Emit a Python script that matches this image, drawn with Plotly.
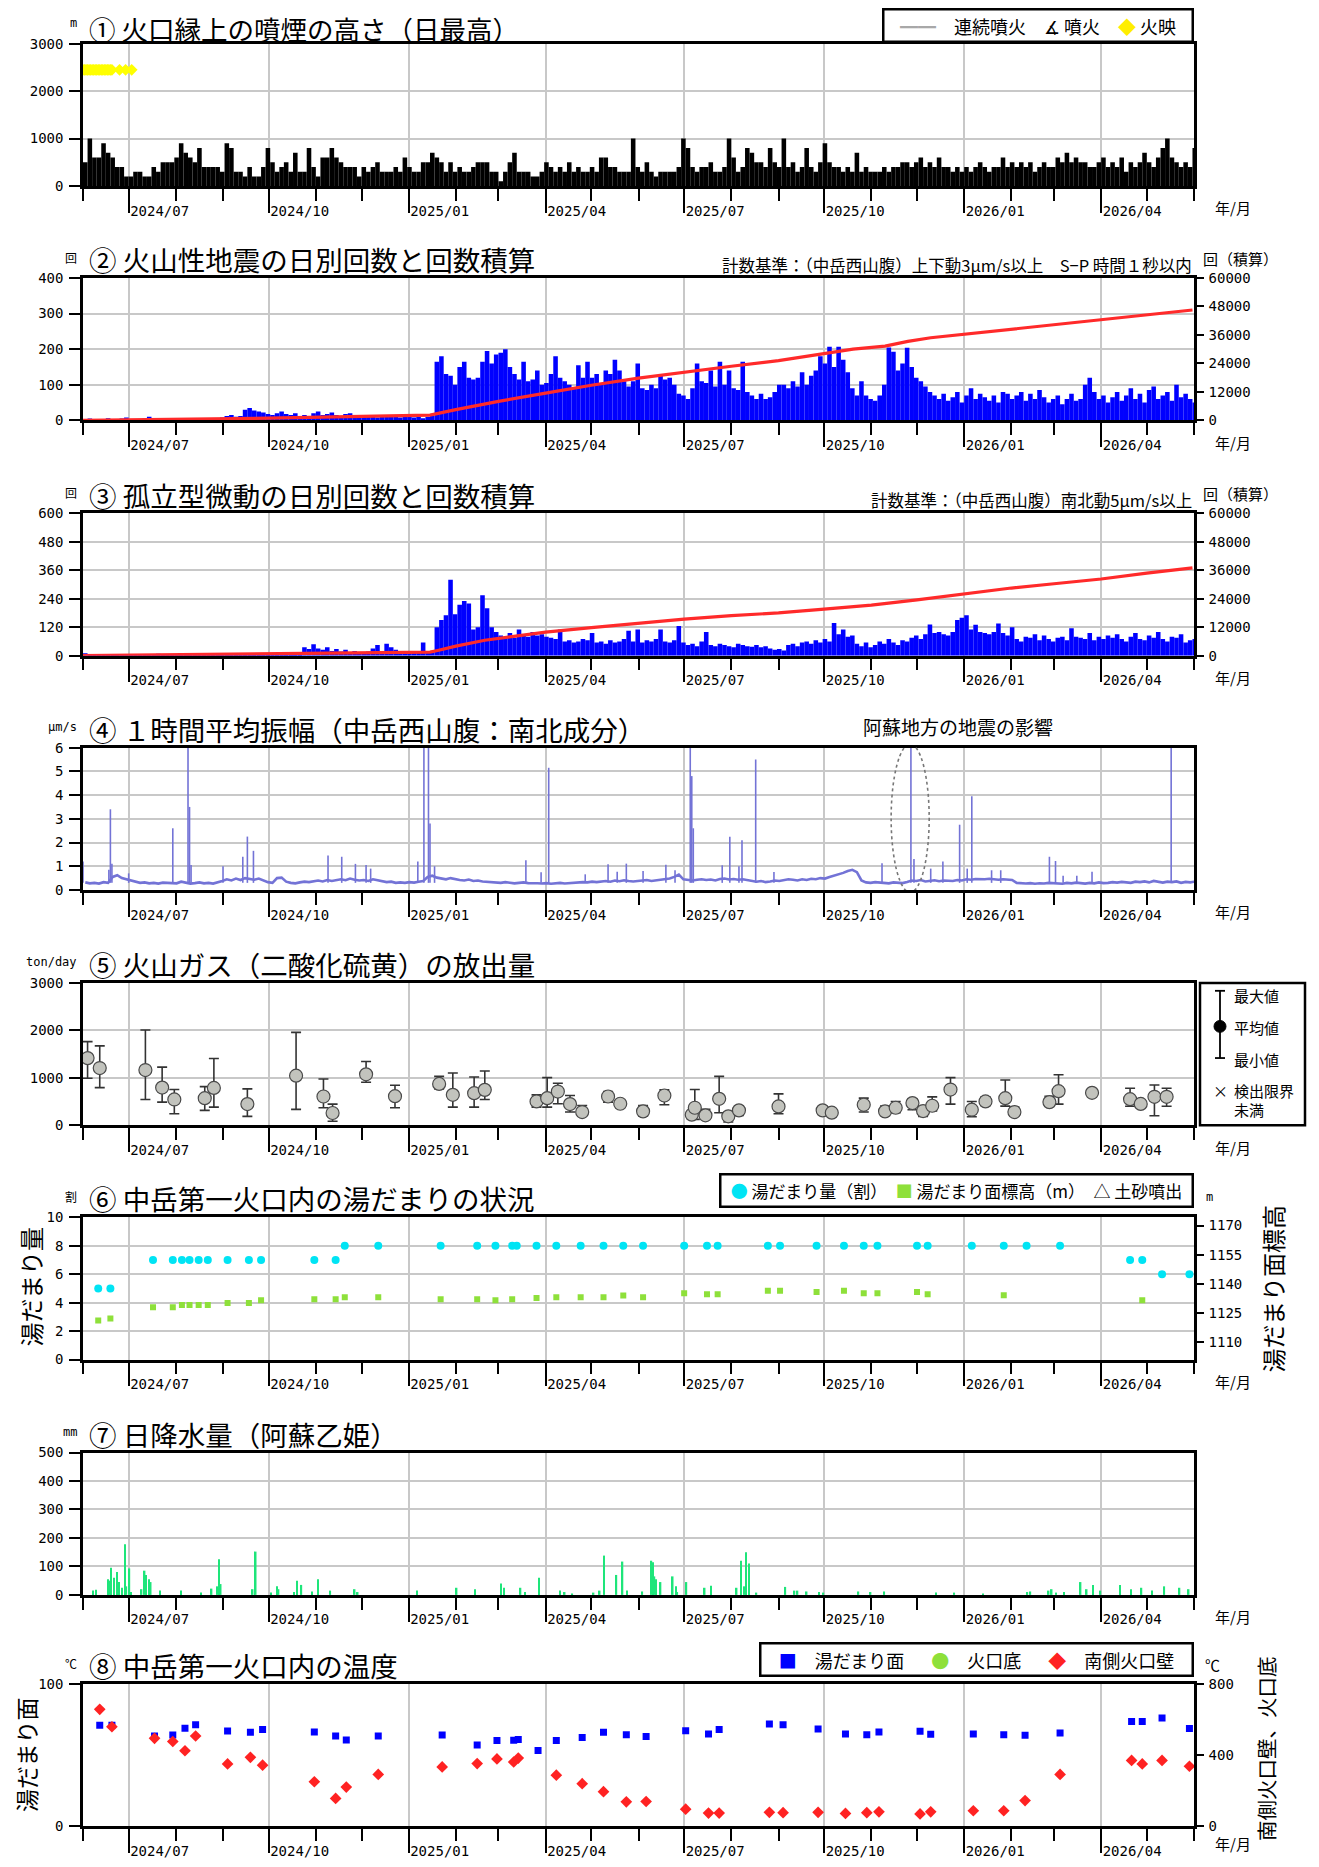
import pandas as pd
import plotly.graph_objects as go

START, END = "2024-06-01", "2026-06-01"

# ---------------- DATA ----------------
# ① daily max plume height (m), 3-day bins from START
plume_height = [
    500,1000,600,600,900,700,600,400,400,200, 200,300,300,200,200,400,300,500,500,500,
    600,900,700,600,500,800,400,400,400,400, 300,900,800,300,300,200,400,200,200,400,
    800,500,300,400,500,300,700,300,300,800, 400,200,600,600,800,600,500,400,400,400,
    200,400,300,400,500,300,300,300,400,300, 600,400,300,300,500,500,700,600,500,300,
    500,300,400,300,300,400,500,500,500,300, 300,100,300,500,700,300,300,300,200,200,
    300,500,400,300,400,300,500,300,400,300, 300,400,300,600,600,400,400,300,300,300,
    1000,400,300,500,300,200,300,300,300,300, 400,1000,800,400,300,400,400,500,300,300,
    400,1000,600,300,400,800,700,500,500,400, 800,500,400,1000,400,500,300,400,800,400,
    300,500,900,500,400,400,300,400,300,700, 300,400,300,300,300,400,300,400,400,500,
    500,400,500,600,400,500,400,600,400,400, 300,400,300,400,300,400,500,400,300,400,
    400,600,400,500,400,500,400,500,300,400, 500,400,400,600,500,700,500,600,500,500,
    400,400,500,600,400,500,400,600,300,500, 400,500,700,500,400,600,800,1000,600,500,
    400,500,400,800]
glow_dates = ["2024-06-01","2024-06-02","2024-06-03","2024-06-04","2024-06-05","2024-06-06",
              "2024-06-07","2024-06-08","2024-06-09","2024-06-10","2024-06-11","2024-06-12",
              "2024-06-13","2024-06-14","2024-06-15","2024-06-16","2024-06-17","2024-06-18",
              "2024-06-19","2024-06-20","2024-06-25","2024-06-29","2024-07-03"]
glow_level = 2450

# ② volcanic earthquakes per day (3-day bins) and cumulative
eq_daily = [
    3,5,2,4,3,6,2,3,5,8, 3,2,4,5,10,6,3,4,2,5, 3,4,6,3,5,2,4,3,5,4,
    8,12,15,10,12, 30,35,28,25,22,18, 15,20,25,18,15,20,12,15,10,
    20,25,15,18,22,15,12,18,20,15, 10,12,15,10,8,12,10,15,12,8, 10,12,
    8,10,6,10,12,
    165,180,130,125,100,150,165,120,115,120, 165,195,160,185,190,200,150,130,115,165, 110,115,140,100,105,
    130,180,120,110,100,90,155,120,165,120, 130,100,140,130,170,140,110,95,110,160, 90,85,100,90,130,115,120,100,
    75,70,60,90,160,110,105,140,95,165, 100,140,90,85,165,80,70,60,75,60, 65,80,100,100,90,110,95,135,100,125, 140,
    180,160,207,150,207,170,135,90,70,110, 70,60,55,70,100,205,193,140,160,204, 150,120,110,95,80,
    70,60,75,55,65,80,50,70,90,60, 75,65,55,70,50,80,75,60,70,80, 55,75,60,85,65,50,60,70,45,60, 75,55,60,100,120,80,60,70,
    50,65,80,55,70,90,60,75,50,85, 95,60,70,80,55,100,65,75,60,50]
eq_cum_dates = ["2024-06-01","2024-08-01","2024-10-01","2024-12-01","2025-01-15","2025-02-01","2025-03-01",
                "2025-04-01","2025-05-01","2025-06-01","2025-07-01","2025-08-01","2025-09-01","2025-10-01",
                "2025-10-20","2025-11-10","2025-11-25","2025-12-10","2026-01-01","2026-02-01","2026-03-01",
                "2026-04-01","2026-05-01","2026-05-31"]
eq_cum = [0,400,900,1700,2200,4500,8000,11500,14800,17800,20400,22800,25200,28200,
          30000,31300,33300,34800,36300,38200,40000,42100,44300,46500]

# ③ isolated tremor per day (3-day bins) and cumulative
tr_daily = [
    10,5,4,6,3,5,4,6,3,5, 7,4,3,6,5,4,8,3,5,4, 6,3,5,4,3,6,4,5,3,7, 4,5,6,3,5,4,8,5,6,4, 5,3,6,4,7,5,6,4,
    35,28,48,30,25,35,20,28, 18,25,15,20,12,15,18, 30,45,20,50,35, 25,20,15,18,12,15, 55, 15,20,
    120,150,170,320,175,215,230,220,110,120,255,200,120,100,
    85,80,95,75,110,90,80,100,85,90,80,
    75,70,110,60,65,55,60,70,65,95, 55,60,50,65,55,60,70,105,60,110, 55,65,60,70,110,60,55,65,
    125, 55,45,50,40,60, 100, 45,40,50,45,40,35,50,45,40,38,45,35,40, 30,25,28,22,
    45,50,40,55,60,50,65,55,70,60, 138, 90,110,80,85,
    50,40,55,35,45,60,50,70,55,45,65,60, 75,85,70,90, 131, 95,100,90,85,100, 150,160,170,
    110,130,100,95,90,100, 135, 95,85,120, 70,60,80,75,90,65,85,70,60,75,80,65, 115,
    80,75,70,95,65,80,70,
    85,75,90,70,60,80,95,70,65,85, 75,100,70,60,80,75,90,55,65,70]
tr_cum_dates = ["2024-06-01","2024-09-01","2024-12-01","2025-01-15","2025-01-20","2025-02-01","2025-02-20",
                "2025-03-05","2025-04-01","2025-05-01","2025-06-01","2025-07-01","2025-08-01","2025-09-01",
                "2025-10-01","2025-11-01","2025-12-01","2026-01-01","2026-02-01","2026-03-01","2026-04-01",
                "2026-05-01","2026-05-31"]
tr_cum = [0,500,1000,1500,2200,4000,6500,7600,9900,11800,13700,15400,16900,18000,
          19600,21300,23500,25900,28500,30300,32300,34800,37000]

# ④ hourly mean amplitude: background level (3-day bins) and spikes
amp_base = [
    .32,.28,.30,.27,.33,.30,.55,.62,.50,.45, .40,.35,.30,.32,.28,.30,.27,.31,.29,.30,
    .28,.35,.30,.27,.29,.32,.28,.30,.27,.31, .38,.45,.40,.48,.42,.50,.45,.43,.48,.40,
    .33,.30,.50,.52,.35,.30,.28,.32,.35,.33, .38,.40,.36,.42,.38,.40,.45,.41,.48,.43,
    .40,.42,.38,.45,.40,.36,.33,.35,.30,.32, .30,.33,.31,.35,.38,.55,.60,.52,.48,.45,
    .50,.45,.42,.40,.44,.38,.40,.36,.35,.33, .32,.30,.33,.31,.28,.30,.32,.29,.30,.28,
    .27,.29,.26,.28,.30,.27,.29,.31,.30,.33, .32,.35,.33,.36,.38,.35,.40,.37,.41,.38,
    .36,.38,.40,.42,.38,.41,.43,.45,.48,.55, .65,.45,.42,.40,.43,.45,.42,.44,.40,.46,
    .48,.44,.46,.43,.45,.42,.40,.35,.38,.33, .36,.40,.38,.42,.45,.43,.40,.45,.42,.47,
    .45,.50,.48,.55,.60,.65,.72,.80,.85,.75, .40,.32,.30,.33,.31,.30,.28,.32,.30,.29,
    .34,.40,.38,.42,.36,.38,.41,.37,.40,.39, .38,.42,.40,.45,.43,.46,.44,.45,.47,.44,
    .43,.45,.44,.42,.30,.28,.27,.29,.26,.28, .27,.30,.28,.29,.26,.30,.28,.31,.29,.27,
    .30,.28,.32,.29,.30,.33,.31,.34,.32,.30, .35,.33,.36,.32,.38,.34,.31,.35,.33,.36,
    .30,.34,.32,.35]
spike_dates = ["2024-06-01","2024-06-18","2024-06-19","2024-06-20","2024-07-01","2024-07-30","2024-08-09",
               "2024-08-10","2024-08-11","2024-09-01","2024-09-14","2024-09-17","2024-09-21","2024-11-09",
               "2024-11-18","2024-11-27","2024-12-04","2024-12-07","2025-01-07","2025-01-11","2025-01-14",
               "2025-01-15","2025-01-18","2025-03-19","2025-03-29","2025-04-03","2025-04-27","2025-05-12",
               "2025-05-18","2025-05-24","2025-06-04","2025-06-19","2025-06-25","2025-07-05","2025-07-06",
               "2025-07-07","2025-07-26","2025-07-31","2025-08-06","2025-08-08","2025-08-17","2025-08-29",
               "2025-11-08","2025-11-27","2025-11-29","2025-12-10","2025-12-18","2025-12-29","2026-01-03",
               "2026-01-06","2026-01-19","2026-01-25","2026-02-26","2026-03-02","2026-03-07","2026-03-16",
               "2026-03-26","2026-05-17"]
spike_peaks = [1.2,0.85,3.4,1.1,0.7,2.6,6.0,3.5,1.05,1.0, 1.4,2.25,1.65,1.45,1.4,1.1,1.05,0.9,1.2,6.0,
               6.0,2.8,1.0,1.25,0.75,5.15,0.66,1.08,0.77,1.11, 0.8,1.06,0.83,6.0,4.8,2.6,1.04,2.24,1.0,2.1,
               5.5,0.76,1.13,6.0,1.3,0.9,1.2,2.75,0.9,3.95, 0.83,0.83,1.4,1.22,0.6,0.6,0.77,6.0]
spike_base = 0.3

# ⑤ SO2 emission (ton/day)
so2_dates = ["2024-06-04","2024-06-12","2024-07-12","2024-07-23","2024-07-31","2024-08-20","2024-08-26",
             "2024-09-17","2024-10-19","2024-11-06","2024-11-12","2024-12-04","2024-12-23","2025-01-21",
             "2025-01-30","2025-02-13","2025-02-20","2025-03-26","2025-04-02","2025-04-09","2025-04-17",
             "2025-04-25","2025-05-12","2025-05-20","2025-06-04","2025-06-18","2025-07-06","2025-07-08",
             "2025-07-15","2025-07-24","2025-07-30","2025-08-06","2025-09-01","2025-09-30","2025-10-06",
             "2025-10-27","2025-11-10","2025-11-17","2025-11-28","2025-12-05","2025-12-11","2025-12-23",
             "2026-01-06","2026-01-15","2026-01-28","2026-02-03","2026-02-26","2026-03-04","2026-03-26",
             "2026-04-20","2026-04-27","2026-05-06","2026-05-14"]
so2_mean = [1415,1206,1164,794,544,571,787,446,1045,606, 258,1073,613,871,641,676,746,502,571,711,
            446,279,606,453,293,627,223,369,209,557, 188,314,397,314,265,432,293,369,467,300,
            411,753,328,502,571,279,488,718,683,550, 450,600,600]
so2_min = [990,794,544,488,244,314,383,188,334,369, 84,906,369,767,383,383,544,383,383,453,
           279,209,488,390,195,432,140,125,150,265, 70,209,244,250,200,279,230,265,328,188,
           300,446,181,418,404,200,420,446,620,400, 380,200,400]
so2_max = [1763,1672,2007,1226,753,815,1408,767,1958,976, 446,1345,843,1031,1101,1017,1143,641,1003,885,
           627,418,711,520,418,746,280,753,334,1031, 260,404,662,370,330,571,404,502,557,380,
           599,1003,502,599,955,383,613,1066,750,780, 520,850,780]

# ⑥ crater lake: amount (割) and surface elevation (m)
lake_amt_dates = ["2024-06-11","2024-06-19","2024-07-17","2024-07-30","2024-08-05","2024-08-10","2024-08-16",
                  "2024-08-22","2024-09-04","2024-09-18","2024-09-26","2024-10-31","2024-11-14","2024-11-20",
                  "2024-12-12","2025-01-22","2025-02-15","2025-02-27","2025-03-10","2025-03-13","2025-03-26",
                  "2025-04-08","2025-04-24","2025-05-09","2025-05-22","2025-06-04","2025-07-01","2025-07-16",
                  "2025-07-23","2025-08-25","2025-09-02","2025-09-26","2025-10-14","2025-10-27","2025-11-05",
                  "2025-12-01","2025-12-08","2026-01-06","2026-01-27","2026-02-11","2026-03-05","2026-04-20",
                  "2026-04-28","2026-05-11","2026-05-29"]
lake_amt = [5,5,7,7,7,7,7,7,7,7,7,7,7,8,8,8,8,8,8,8,8,8,8,8,8,8,8,8,8,8,8,8,8,8,8,8,8,8,8,8,8,7,7,6,6]
lake_lvl_dates = ["2024-06-11","2024-06-19","2024-07-17","2024-07-30","2024-08-05","2024-08-10","2024-08-16",
                  "2024-08-22","2024-09-04","2024-09-18","2024-09-26","2024-10-31","2024-11-14","2024-11-20",
                  "2024-12-12","2025-01-22","2025-02-15","2025-02-27","2025-03-10","2025-03-26","2025-04-08",
                  "2025-04-24","2025-05-09","2025-05-22","2025-06-04","2025-07-01","2025-07-16","2025-07-23",
                  "2025-08-25","2025-09-02","2025-09-26","2025-10-14","2025-10-27","2025-11-05","2025-12-01",
                  "2025-12-08","2026-01-27","2026-04-28"]
lake_lvl = [1121,1122,1127.8,1127.8,1129,1129,1129,1129,1130,1130, 1131.4,1132,1132,1133,1133,1132,1132,1131.4,1132,1132.6,
            1133,1133,1133,1133.9,1133,1135,1134.5,1134.5,1136.3,1136.3, 1135.7,1136.3,1135,1135,1135.7,1134.5,1134,1131.4]

# ⑦ daily precipitation (mm)
rain_dates = ["2024-06-07","2024-06-09","2024-06-17","2024-06-18","2024-06-19","2024-06-21","2024-06-23","2024-06-24",
              "2024-06-26","2024-06-28","2024-06-29","2024-07-01","2024-07-02","2024-07-09","2024-07-11","2024-07-12",
              "2024-07-14","2024-07-15","2024-07-21","2024-08-04","2024-08-17","2024-08-24","2024-08-28","2024-08-29",
              "2024-08-30","2024-09-20","2024-09-22","2024-10-02","2024-10-06","2024-10-07","2024-10-17","2024-10-19",
              "2024-10-22","2024-10-29","2024-11-02","2024-11-10","2024-11-26","2024-11-28","2025-01-06","2025-02-01",
              "2025-02-13","2025-03-02","2025-03-04","2025-03-15","2025-03-18","2025-03-27","2025-04-10","2025-04-13",
              "2025-04-18","2025-05-02","2025-05-06","2025-05-09","2025-05-17","2025-05-21","2025-05-24","2025-06-03",
              "2025-06-09","2025-06-10","2025-06-11","2025-06-12","2025-06-15","2025-06-23","2025-06-25","2025-06-26",
              "2025-07-02","2025-07-14","2025-07-18","2025-08-04","2025-08-07","2025-08-09","2025-08-10","2025-08-12",
              "2025-08-17","2025-09-05","2025-09-11","2025-09-13","2025-09-19","2025-09-27","2025-09-30","2025-10-23",
              "2025-10-31","2025-11-09","2025-12-13","2025-12-25","2026-01-13","2026-02-11","2026-02-13","2026-02-25",
              "2026-02-27","2026-03-02","2026-03-07","2026-03-18","2026-03-22","2026-03-26","2026-03-31","2026-04-13",
              "2026-04-20","2026-04-27","2026-05-04","2026-05-12","2026-05-22","2026-05-28"]
rain_mm = [15,18,55,50,95,60,80,45,25,178, 30,93,10,20,85,70,55,45,15,15, 8,22,30,125,38,20,152,8,30,20,
           10,50,35,12,55,15,20,10,15,25, 20,40,25,25,10,60,15,10,5,8, 15,138,70,117,15,12,120,115,65,55,
           45,65,30,10,45,25,32,25,120,30, 150,110,8,28,15,15,12,10,8,12, 10,12,8,8,5,10,12,15,20,8,
           10,45,20,35,15,35,20,25,15,30, 25,20]

# ⑧ temperatures (°C)
temp_dates = ["2024-06-12","2024-06-20","2024-07-18","2024-07-30","2024-08-07","2024-08-14","2024-09-04","2024-09-19",
              "2024-09-27","2024-10-31","2024-11-14","2024-11-21","2024-12-12","2025-01-23","2025-02-15","2025-02-28",
              "2025-03-11","2025-03-14","2025-03-27","2025-04-08","2025-04-25","2025-05-09","2025-05-24","2025-06-06",
              "2025-07-02","2025-07-17","2025-07-24","2025-08-26","2025-09-04","2025-09-27","2025-10-15","2025-10-29",
              "2025-11-06","2025-12-03","2025-12-10","2026-01-07","2026-01-27","2026-02-10","2026-03-05","2026-04-21",
              "2026-04-28","2026-05-11","2026-05-29"]
lake_temp = [71,71,63.4,64,68.8,71.3,66.9,66,68,66.2, 63.4,60.6,63.4,64,57,60.2,60.4,61,53.2,60.2,
             62.3,66,64.2,63,67.1,64.8,68,71.8,71.3,68.3, 64.8,64.2,66.2,66.7,64.6,64.8,64.2,63.9,65.5,73.5,
             73.5,76,68.6]
wall_temp = [657,559,494,476,424,507,350,387,343,250, 156,220,291,333,352,378,361,383,None,287,
             239,194,137,139,96,74,74,78,76,78, 72,76,81,69,81,87,87,144,291,370, 350,370,337]

titles = ["① 火口縁上の噴煙の高さ（日最高）", "② 火山性地震の日別回数と回数積算",
          "③ 孤立型微動の日別回数と回数積算", "④ １時間平均振幅（中岳西山腹：南北成分）",
          "⑤ 火山ガス（二酸化硫黄）の放出量", "⑥ 中岳第一火口内の湯だまりの状況",
          "⑦ 日降水量（阿蘇乙姫）", "⑧ 中岳第一火口内の温度"]
units = ["m", "回", "回", "μm/s", "ton/day", "割", "mm", "℃"]

# ---------------- LAYOUT HELPERS ----------------
W, H, M = 1303, 1851, 8
def fx(p): return (p - M) / W
def fy(p): return 1 - (p - M) / H

LEFT, RIGHT = 83, 1194
TOPS = [36, 273, 511, 748, 986, 1223, 1461, 1695]
PH = 144
JP = "Noto Sans CJK JP"
MONO = "DejaVu Sans Mono"
TF = dict(family=MONO, size=14, color="black")
GRID = "#c8c8c8"
DAY = 86400000

def bin_centers(n, d):
    return pd.date_range(START, periods=n, freq=f"{d}D") + pd.Timedelta(hours=12 * d)

fig = go.Figure()
def ax(k): return "" if k == 1 else str(k)

# ① plume
fig.add_trace(go.Bar(x=bin_centers(len(plume_height), 3), y=plume_height, width=3 * DAY,
                     marker=dict(color="black", line=dict(width=0)), xaxis="x", yaxis="y"))
fig.add_trace(go.Scatter(x=glow_dates, y=[glow_level] * len(glow_dates), mode="markers",
                         marker=dict(symbol="diamond", size=9, color="#ffff00", line=dict(width=0)),
                         xaxis="x", yaxis="y"))
# ② earthquakes
fig.add_trace(go.Bar(x=bin_centers(len(eq_daily), 3), y=eq_daily, width=3 * DAY,
                     marker=dict(color="#0000ff", line=dict(width=0)), xaxis="x2", yaxis="y2"))
fig.add_trace(go.Scatter(x=eq_cum_dates, y=eq_cum, mode="lines", line=dict(color="#ff2a2a", width=3.2),
                         xaxis="x2", yaxis="y9"))
# ③ tremor
fig.add_trace(go.Bar(x=bin_centers(len(tr_daily), 3), y=tr_daily, width=3 * DAY,
                     marker=dict(color="#0000ff", line=dict(width=0)), xaxis="x3", yaxis="y3"))
fig.add_trace(go.Scatter(x=tr_cum_dates, y=tr_cum, mode="lines", line=dict(color="#ff2a2a", width=3.2),
                         xaxis="x3", yaxis="y10"))
# ④ amplitude
fig.add_trace(go.Scatter(x=bin_centers(len(amp_base), 3), y=amp_base, mode="lines",
                         line=dict(color="#7373d6", width=2.6), xaxis="x4", yaxis="y4"))
sx, sy = [], []
for d, p in zip(spike_dates, spike_peaks):
    sx += [d, d, None]
    sy += [spike_base, p, None]
fig.add_trace(go.Scatter(x=sx, y=sy, mode="lines", line=dict(color="#7373d6", width=1.6),
                         xaxis="x4", yaxis="y4"))
# ⑤ SO2
fig.add_trace(go.Scatter(
    x=so2_dates, y=so2_mean, mode="markers",
    marker=dict(symbol="circle", size=13, color="#c2c3bd", line=dict(color="#4a4a4a", width=1.2)),
    error_y=dict(type="data", symmetric=False,
                 array=[mx - m for mx, m in zip(so2_max, so2_mean)],
                 arrayminus=[m - mn for m, mn in zip(so2_mean, so2_min)],
                 color="#333333", thickness=1.6, width=5),
    xaxis="x5", yaxis="y5"))
# ⑥ lake
fig.add_trace(go.Scatter(x=lake_amt_dates, y=lake_amt, mode="markers",
                         marker=dict(symbol="circle", size=8, color="#00e4f4"), xaxis="x6", yaxis="y6"))
fig.add_trace(go.Scatter(x=lake_lvl_dates, y=lake_lvl, mode="markers",
                         marker=dict(symbol="square", size=6, color="#8ee03a"), xaxis="x6", yaxis="y11"))
# ⑦ rain
fig.add_trace(go.Bar(x=pd.to_datetime(rain_dates) + pd.Timedelta(hours=12), y=rain_mm, width=DAY,
                     marker=dict(color="#1ee57a", line=dict(width=0)), xaxis="x7", yaxis="y7"))
# ⑧ temperature
fig.add_trace(go.Scatter(x=temp_dates, y=lake_temp, mode="markers",
                         marker=dict(symbol="square", size=7, color="#0000ff"), xaxis="x8", yaxis="y8"))
fig.add_trace(go.Scatter(x=temp_dates, y=wall_temp, mode="markers",
                         marker=dict(symbol="diamond", size=9, color="#ff2222"), xaxis="x8", yaxis="y12"))

layout = dict(width=W, height=H, margin=dict(l=0, r=0, t=0, b=0), autosize=False,
              paper_bgcolor="white", plot_bgcolor="white", showlegend=False,
              font=dict(family=JP, color="black"))

yconf = {1: dict(range=[0, 3000], dtick=1000), 2: dict(range=[0, 400], dtick=100),
         3: dict(range=[0, 600], dtick=120), 4: dict(range=[0, 6], dtick=1),
         5: dict(range=[0, 3000], dtick=1000), 6: dict(range=[0, 10], dtick=2),
         7: dict(range=[0, 500], dtick=100),
         8: dict(range=[0, 100], tickmode="array", tickvals=[0, 100], showgrid=False)}

for k in range(1, 9):
    T = TOPS[k - 1]
    ydom = [fy(T + PH), fy(T)]
    layout["xaxis" + ax(k)] = dict(
        domain=[fx(LEFT), fx(RIGHT)], anchor="y" + ax(k), type="date", range=[START, END],
        tickmode="linear", tick0="2024-07-01", dtick="M3", tickformat="%Y/%m",
        ticks="outside", ticklen=24, tickwidth=2, tickcolor="black",
        ticklabelshift=31, ticklabelstandoff=-14, tickfont=TF,
        showgrid=True, gridcolor=GRID, gridwidth=1.5, zeroline=False,
        showline=True, mirror=True, linecolor="black", linewidth=2.5,
        minor=dict(tickmode="linear", tick0="2024-06-01", dtick="M1", ticks="outside",
                   ticklen=12, tickwidth=2, tickcolor="black", showgrid=False))
    yc = dict(domain=ydom, anchor="x" + ax(k), tickformat="d", ticks="outside", ticklen=11,
              tickwidth=2, tickcolor="black", tickfont=TF, ticklabelstandoff=3,
              showgrid=True, gridcolor=GRID, gridwidth=1.5, zeroline=False,
              showline=True, mirror=True, linecolor="black", linewidth=2.5, fixedrange=True)
    yc.update(yconf[k])
    layout["yaxis" + ax(k)] = yc

def right_axis(over, **kw):
    d = dict(overlaying=over, anchor="x" + over[1:], side="right", tickformat="d", ticks="outside",
             ticklen=7, tickwidth=2, tickcolor="black", tickfont=TF, ticklabelstandoff=2,
             showgrid=False, zeroline=False, showline=True, linecolor="black", linewidth=2.5)
    d.update(kw)
    return d

layout["yaxis9"] = right_axis("y2", range=[0, 60000], dtick=12000)
layout["yaxis10"] = right_axis("y3", range=[0, 60000], dtick=12000)
layout["yaxis11"] = right_axis("y6", range=[1100.8, 1174.3], tickmode="linear", tick0=1110, dtick=15)
layout["yaxis12"] = right_axis("y8", range=[0, 800], tickmode="array", tickvals=[0, 400, 800])

ann = []
def A(text, x, y, size, xanchor="left", yanchor="middle", family=JP, angle=0, **kw):
    d = dict(text=text, x=fx(x), y=fy(y), xref="paper", yref="paper", showarrow=False,
             xanchor=xanchor, yanchor=yanchor, textangle=angle,
             font=dict(family=family, size=size, color="black"))
    d.update(kw)
    ann.append(d)

for k in range(1, 9):
    T = TOPS[k - 1]
    if k == 1:
        A(titles[0], 87, 20.5, 26.5)
    else:
        A(titles[k - 1], 87, T - 19, 27.5)
    A(units[k - 1], 79, T - 21, 12, xanchor="right", family=MONO if k not in (2, 3, 6, 8) else JP)
    A("年/月", 1233, T + PH + (22 if k < 8 else 17), 15, xanchor="center")

# right side units / notes
A("回（積算）", 1201, TOPS[1] - 20, 15)
A("回（積算）", 1201, TOPS[2] - 20, 15)
A("計数基準：（中岳西山腹）上下動3μm/s以上　S−P 時間１秒以内", RIGHT, TOPS[1] - 13, 16.5, xanchor="right")
A("計数基準：（中岳西山腹）南北動5μm/s以上", RIGHT, TOPS[2] - 13, 16.5, xanchor="right")
A("m", 1204, TOPS[5] - 20, 12, family=MONO)
A("℃", 1203, TOPS[7] - 20, 15)
A("湯だまり量", 30, TOPS[5] + 70, 24, xanchor="center", angle=-90)
A("湯だまり面標高", 1272, TOPS[5] + 72, 24, xanchor="center", angle=-90)
A("湯だまり面", 26, TOPS[7] + 72, 23, xanchor="center", angle=-90)
A("南側火口壁、火口底", 1266, TOPS[7] + 66, 20.5, xanchor="center", angle=-90)

# ④ note + ellipse
ann.append(dict(text="阿蘇地方の地震の影響", x="2025-12-28", y=fy(TOPS[3] - 21), xref="x4", yref="paper",
                showarrow=False, xanchor="center", yanchor="middle",
                font=dict(family=JP, size=19, color="black")))
shapes = [dict(type="circle", xref="x4", yref="y4", x0="2025-11-14", x1="2025-12-09", y0=-0.1, y1=6.15,
               line=dict(color="#777777", width=1.6, dash="dot"))]

# legend boxes
GRAY = "#a8a8a8"
A(f'<span style="color:{GRAY}">━━</span>\u3000連続噴火\u3000∡ 噴火\u3000<span style="color:#ffee00">◆</span> 火映',
  RIGHT, 18, 18, xanchor="right", width=305, height=28, bordercolor="black", borderwidth=2.5,
  borderpad=1, bgcolor="white", align="center")
A('<span style="color:#00e4f4">●</span> 湯だまり量（割）\u3000<span style="color:#8ee03a">■</span> 湯だまり面標高（m）\u3000△ 土砂噴出',
  RIGHT, 1196, 17, xanchor="right", width=468, height=28, bordercolor="black", borderwidth=2.5,
  borderpad=1, bgcolor="white", align="center")
A('<span style="color:#0000ff">■</span>\u3000湯だまり面\u3000\u2002<span style="color:#8ee03a">●</span>\u3000火口底\u3000\u2002<span style="color:#ff2222">◆</span>\u3000南側火口壁',
  RIGHT, 1670, 18, xanchor="right", width=428, height=28, bordercolor="black", borderwidth=2.5,
  borderpad=1, bgcolor="white", align="center")

# ⑤ symbol legend box
def P(x0, y0, x1, y1, **kw):
    d = dict(xref="paper", yref="paper", x0=fx(x0), x1=fx(x1), y0=fy(y0), y1=fy(y1))
    d.update(kw)
    return d
B5 = TOPS[4]
shapes += [
    P(1200, B5 + PH, 1305, B5, type="rect", line=dict(color="black", width=2.5), fillcolor="rgba(0,0,0,0)"),
    P(1220, B5 + 8, 1220, B5 + 76, type="line", line=dict(color="black", width=1.8)),
    P(1215, B5 + 8, 1225, B5 + 8, type="line", line=dict(color="black", width=1.8)),
    P(1215, B5 + 76, 1225, B5 + 76, type="line", line=dict(color="black", width=1.8)),
    P(1214, B5 + 50, 1226, B5 + 38, type="circle", line=dict(color="black", width=1), fillcolor="black"),
]
A("最大値", 1232, B5 + 13, 15)
A("平均値", 1232, B5 + 45, 15)
A("最小値", 1232, B5 + 77, 15)
A("×", 1220, B5 + 109, 15, xanchor="center")
A("検出限界", 1232, B5 + 109, 15)
A("未満", 1232, B5 + 128, 15)

layout["annotations"] = ann
layout["shapes"] = shapes
fig.update_layout(**layout)
fig.write_html("out.html")
